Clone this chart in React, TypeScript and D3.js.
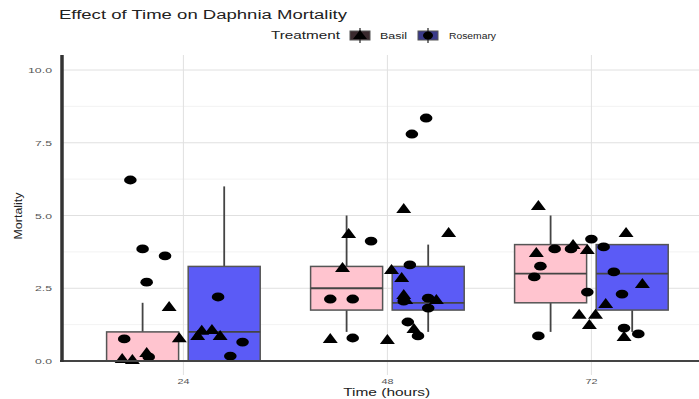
import React from "react";
import * as d3 from "d3";

const times = ["24", "48", "72"];
const treatments = ["Basil", "Rosemary"];
const yTicks = [0, 2.5, 5, 7.5, 10];
const yMinor = [1.25, 3.75, 6.25, 8.75];

// box stats per time: [lowerWhisker, q1, median, q3, upperWhisker]
const basilStats = [
  [0, 0, 0, 1, 2],
  [1, 1.75, 2.5, 3.25, 5],
  [1, 2, 3, 4, 5],
];
const rosemaryStats = [
  [0, 0, 1, 3.25, 6],
  [1, 1.75, 2, 3.25, 4],
  [1, 1.75, 3, 4, 4],
];

// jittered points: time index, jitter (category units), value
const basilTime = [0,0,0,0,0,0,0,0,0, 1,1,1,1,1,1,1,1,1,1,1,1, 2,2,2,2,2,2,2,2,2,2,2];
const basilJitter = [-0.30,-0.25,-0.18,-0.07,-0.02,0.07,0.09,0.14,0.18,
  0.08,0.30,-0.19,-0.22,0.02,0.07,0.08,0.09,0.24,0.13,-0.28,0.0,
  -0.26,0.17,-0.27,-0.09,-0.02,0.25,0.07,-0.06,0.02,-0.01,0.16];
const basilValue = [0.10,0.07,0.31,1.89,0.82,0.89,1.07,1.10,0.89,
  5.26,4.43,4.40,3.23,3.16,2.89,2.30,2.13,2.13,1.13,0.79,0.76,
  5.36,4.43,3.75,4.02,3.85,2.68,1.99,1.62,1.62,1.27,0.86];

const rosemaryTime = [0,0,0,0,0,0,0,0,0, 1,1,1,1,1,1,1,1,1,1,1,1, 2,2,2,2,2,2,2,2,2,2,2,2];
const rosemaryJitter = [-0.26,-0.20,-0.09,-0.18,-0.29,-0.17,0.17,0.29,0.23,
  0.19,0.12,-0.08,0.11,-0.28,-0.17,0.08,0.20,0.20,0.10,0.15,-0.17,
  -0.18,-0.10,0.0,0.06,-0.25,-0.28,0.11,-0.02,0.15,-0.26,0.16,0.23];
const rosemaryValue = [6.22,3.85,3.61,2.71,0.76,0.14,2.20,0.65,0.17,
  8.35,7.80,4.12,3.30,2.13,2.13,2.06,2.16,1.82,1.34,0.86,0.79,
  3.85,3.85,4.19,3.92,3.26,2.89,3.06,2.37,2.30,0.86,1.13,0.93];

const fills = ["#ffc4cf", "#5b5bf6"];
const font = "'Liberation Sans', Arial, sans-serif";

export default function App() {
  const x = d3.scaleLinear().domain([-0.6, 2.6]).range([61, 61 + 204 * 3.2]);
  const y = d3.scaleLinear().domain([0, 10]).range([361, 70]);
  const dodge = 0.2;
  const boxW = x(0.353) - x(0);
  const stats = [basilStats, rosemaryStats];

  const tri = (cx: number, cy: number) =>
    `M${cx - 7.5},${cy + 5}L${cx + 7.5},${cy + 5}L${cx},${cy - 5}Z`;

  return (
    <svg width={699} height={399} style={{ position: "absolute", left: 0, top: 0, background: "#fff" }}>
      {/* grid */}
      {yMinor.map((t) => (
        <line key={"mn" + t} x1={62} x2={699} y1={y(t)} y2={y(t)} stroke="#ececec" strokeWidth={0.7} />
      ))}
      {yTicks.slice(1).map((t) => (
        <line key={"mj" + t} x1={62} x2={699} y1={y(t)} y2={y(t)} stroke="#e0e0e0" strokeWidth={1} />
      ))}
      {times.map((t, i) => (
        <line key={"v" + t} x1={x(i)} x2={x(i)} y1={55} y2={375} stroke="#e0e0e0" strokeWidth={1} />
      ))}

      {/* boxes */}
      {stats.map((s, k) =>
        s.map((st, i) => {
          const cx = x(i + (k === 0 ? -dodge : dodge));
          const [lo, q1, med, q3, hi] = st;
          return (
            <g key={`b${k}-${i}`}>
              <line x1={cx} x2={cx} y1={y(hi)} y2={y(q3)} stroke="#444" strokeWidth={1.8} />
              <line x1={cx} x2={cx} y1={y(q1)} y2={y(lo)} stroke="#444" strokeWidth={1.8} />
              <rect x={cx - boxW / 2} y={y(q3)} width={boxW} height={Math.max(0.5, y(q1) - y(q3))}
                fill={fills[k]} stroke="#555" strokeWidth={1.5} />
              <line x1={cx - boxW / 2} x2={cx + boxW / 2} y1={y(med)} y2={y(med)} stroke="#444" strokeWidth={1.8} />
            </g>
          );
        })
      )}

      {/* points */}
      {basilValue.map((v, i) => (
        <path key={"bp" + i} d={tri(x(basilTime[i] + basilJitter[i]), y(v))} fill="#000" />
      ))}
      {rosemaryValue.map((v, i) => (
        <ellipse key={"rp" + i} cx={x(rosemaryTime[i] + rosemaryJitter[i])} cy={y(v)} rx={6.3} ry={4.4} fill="#000" />
      ))}

      {/* axes */}
      <line x1={60} x2={699} y1={361} y2={361} stroke="#444" strokeWidth={2.2} />
      <line x1={62} x2={62} y1={55} y2={362} stroke="#333" strokeWidth={3.5} />

      {yTicks.map((t) => (
        <text key={"yt" + t} x={52} y={y(t) + 3} textAnchor="end" fontFamily={font} fontSize={8} fill="#555"
          textLength={t === 10 ? 24 : 17} lengthAdjust="spacingAndGlyphs">
          {t.toFixed(1)}
        </text>
      ))}
      {times.map((t, i) => (
        <text key={"xt" + t} x={x(i)} y={383.5} textAnchor="middle" fontFamily={font} fontSize={7.5} fill="#555"
          textLength={12} lengthAdjust="spacingAndGlyphs">
          {t}
        </text>
      ))}

      <text x={386.7} y={396} textAnchor="middle" fontFamily={font} fontSize={10.5} fill="#222"
        textLength={87} lengthAdjust="spacingAndGlyphs">Time (hours)</text>
      <text transform="translate(22,216) rotate(-90)" textAnchor="middle" fontFamily={font} fontSize={11} fill="#222"
        textLength={47} lengthAdjust="spacingAndGlyphs">Mortality</text>

      <text x={59} y={19} fontFamily={font} fontSize={12.5} fill="#222" textLength={288} lengthAdjust="spacingAndGlyphs">
        Effect of Time on Daphnia Mortality
      </text>

      {/* legend */}
      <text x={271} y={39} fontFamily={font} fontSize={10} fill="#222" textLength={69} lengthAdjust="spacingAndGlyphs">
        Treatment
      </text>
      {treatments.map((t, k) => {
        const kx = k === 0 ? 350 : 418;
        const lx = k === 0 ? 380 : 449;
        const lw = k === 0 ? 27 : 47;
        return (
          <g key={"lg" + t}>
            <rect x={kx} y={31} width={20} height={9} fill={k === 0 ? "#3a2a2e" : "#3a3a8a"} stroke="#555" strokeWidth={1} />
            <line x1={kx + 10} x2={kx + 10} y1={28} y2={43} stroke="#222" strokeWidth={1.2} />
            {k === 0 ? (
              <path d={`M${kx + 3},${39}L${kx + 17},${39}L${kx + 10},${30}Z`} fill="#000" />
            ) : (
              <ellipse cx={kx + 10} cy={35.5} rx={5} ry={4} fill="#000" />
            )}
            <text x={lx} y={39} fontFamily={font} fontSize={8.5} fill="#222" textLength={lw} lengthAdjust="spacingAndGlyphs">
              {t}
            </text>
          </g>
        );
      })}
    </svg>
  );
}
